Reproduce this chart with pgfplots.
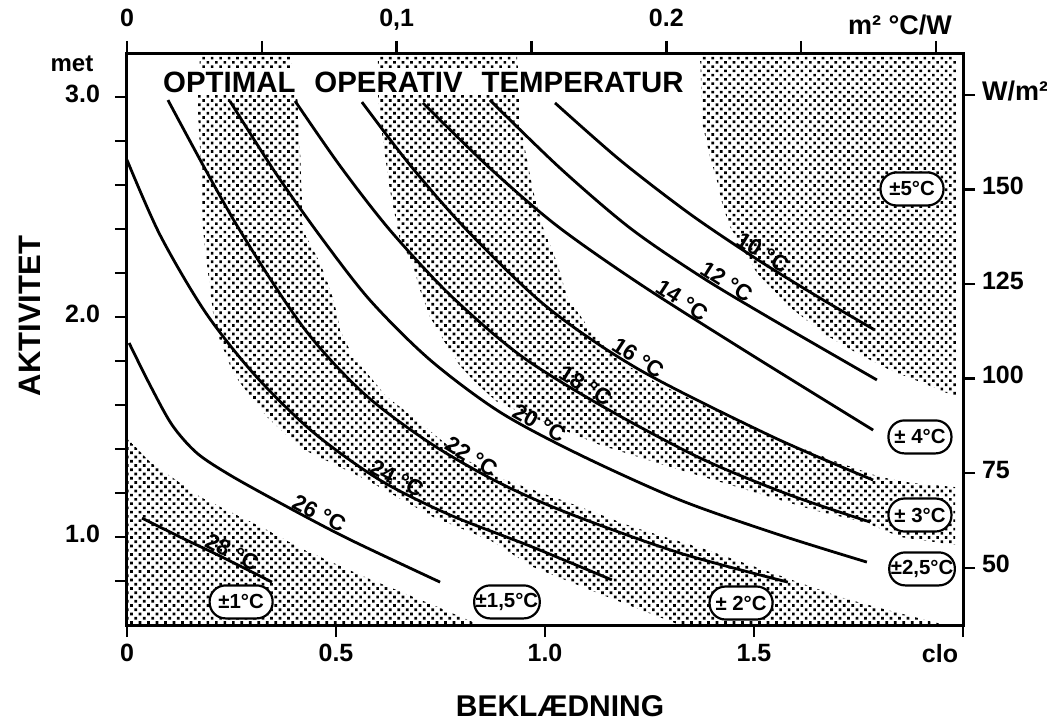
\documentclass[border=0pt]{standalone}
\usepackage{fontspec}
\setmainfont{Liberation Sans}
\usepackage{pgfplots}
\pgfplotsset{compat=1.18}
\usetikzlibrary{patterns.meta}

\tikzset{
  dotfill/.style={draw=none, pattern={Dots[distance=3pt, radius=0.95pt, angle=45]}, pattern color=black},
  curve/.style={black, line width=1.4pt, smooth, mark=none},
  tlab/.style={anchor=south, inner sep=0.3pt, font=\fontsize{11.2}{11.2}\selectfont\bfseries},
  bubble/.style={draw, line width=1.1pt, fill=white, rounded corners=8pt, minimum width=31.5pt, minimum height=16.5pt, inner sep=0.8pt, font=\fontsize{10.2}{10.2}\selectfont\bfseries},
}

\begin{document}
\begin{tikzpicture}
\path[use as bounding box] (-63.5pt,-47.5pt) rectangle (460pt,312.5pt);
\begin{axis}[
  at={(0pt,0pt)}, anchor=south west,
  width=418pt, height=286pt, scale only axis,
  xmin=0, xmax=2, ymin=0.6, ymax=3.2,
  axis line style={line width=1.5pt},
  tick style={line width=1.2pt, black},
  major tick length=6pt, minor tick length=6pt,
  tick align=outside,
  tick pos=left,
  xtick={0,0.5,1,1.5,2}, xticklabels={0,0.5,1.0,1.5,{}},
  ytick={1,2,3}, yticklabels={1.0,2.0,3.0},
  minor ytick={0.8,1.2,1.4,1.6,1.8,2.2,2.4,2.6,2.8},
  ticklabel style={font=\fontsize{12.5}{12.5}\selectfont\bfseries},
  yticklabel style={xshift=-4pt},
  typeset ticklabels with strut,
  /pgf/number format/assume math mode=true,
]
% shaded regions
\addplot[dotfill] coordinates {(-0.05,1.45) (0,1.45) (0.055,1.341) (0.175,1.182) (0.335,1.032) (0.414,0.95) (0.574,0.814) (0.732,0.691) (0.844,0.6) (0.86,0.55) (-0.05,0.55)} -- cycle;
\addplot[dotfill] coordinates {(0.175,3.182) (0.390,3.182) (0.407,3.018) (0.414,2.759) (0.421,2.395) (0.462,2.245) (0.493,2.091) (0.510,1.941) (0.541,1.818) (0.574,1.745) (0.622,1.636) (0.694,1.532) (0.742,1.455) (0.813,1.350) (0.892,1.268) (1.053,1.159) (1.211,1.045) (1.388,0.941) (1.545,0.836) (1.706,0.727) (1.801,0.677) (1.957,0.600) (1.97,0.55) (1.31,0.55) (1.323,0.600) (1.211,0.682) (1.108,0.759) (0.971,0.864) (0.868,0.986) (0.732,1.091) (0.574,1.259) (0.414,1.405) (0.335,1.545) (0.278,1.682) (0.254,1.745) (0.222,1.895) (0.206,2.018) (0.191,2.245) (0.182,2.395) (0.175,2.759) (0.167,3.018)} -- cycle;
\addplot[dotfill] coordinates {(0.600,3.182) (0.933,3.182) (0.940,3.018) (0.940,2.882) (0.971,2.577) (0.995,2.409) (1.029,2.245) (1.053,2.091) (1.108,1.941) (1.187,1.791) (1.268,1.700) (1.388,1.591) (1.545,1.455) (1.706,1.336) (1.801,1.273) (1.880,1.245) (1.981,1.227) (1.981,0.964) (1.849,1.000) (1.770,1.064) (1.641,1.123) (1.483,1.214) (1.323,1.305) (1.132,1.418) (0.95,1.56) (0.885,1.615) (0.835,1.70) (0.795,1.782) (0.760,1.886) (0.725,2.000) (0.701,2.123) (0.682,2.250) (0.653,2.350) (0.629,2.577) (0.612,2.805) (0.600,3.018)} -- cycle;
\addplot[dotfill] coordinates {(1.371,3.182) (1.985,3.182) (1.985,1.636) (1.904,1.700) (1.825,1.759) (1.746,1.836) (1.665,1.927) (1.586,2.045) (1.507,2.200) (1.443,2.409) (1.426,2.500) (1.411,2.623) (1.395,2.727) (1.376,2.882)} -- cycle;
% comfort lines
\addplot[curve] coordinates {(1.024,2.973) (1.179,2.714) (1.347,2.468) (1.510,2.259) (1.658,2.086) (1.789,1.941)};
\addplot[curve] coordinates {(0.868,2.986) (1.036,2.677) (1.203,2.405) (1.371,2.186) (1.538,1.995) (1.794,1.714)};
\addplot[curve] coordinates {(0.708,2.973) (0.868,2.677) (1.029,2.414) (1.227,2.150) (1.483,1.841) (1.785,1.486)};
\addplot[curve] coordinates {(0.562,2.977) (0.677,2.691) (0.813,2.395) (1.005,2.045) (1.227,1.759) (1.545,1.455) (1.785,1.259)};
\addplot[curve] coordinates {(0.402,2.982) (0.510,2.686) (0.629,2.395) (0.773,2.100) (0.940,1.827) (1.132,1.600) (1.371,1.359) (1.586,1.191) (1.778,1.068)};
\addplot[curve] coordinates {(0.246,2.982) (0.354,2.659) (0.462,2.368) (0.581,2.077) (0.725,1.805) (0.892,1.568) (1.084,1.373) (1.323,1.168) (1.562,1.009) (1.770,0.886)};
\addplot[curve] coordinates {(0.098,2.986) (0.258,2.432) (0.421,1.955) (0.565,1.655) (0.725,1.427) (0.892,1.245) (1.060,1.105) (1.323,0.927) (1.581,0.795)};
\addplot[curve] coordinates {(0.0,2.714) (0.079,2.373) (0.187,2.023) (0.306,1.736) (0.445,1.477) (0.605,1.259) (0.773,1.100) (0.964,0.959) (1.160,0.805)};
\addplot[curve] coordinates {(0.005,1.882) (0.055,1.691) (0.108,1.509) (0.167,1.382) (0.246,1.282) (0.366,1.155) (0.526,0.995) (0.749,0.795)};
\addplot[curve] coordinates {(0.036,1.086) (0.127,1.000) (0.222,0.914) (0.347,0.795)};
% line labels
\node[tlab, rotate=-27] at (axis cs:0.242,0.895) {28 °C};
\node[tlab, rotate=-27] at (axis cs:0.450,1.071) {26 °C};
\node[tlab, rotate=-27] at (axis cs:0.636,1.230) {24 °C};
\node[tlab, rotate=-31] at (axis cs:0.813,1.331) {22 °C};
\node[tlab, rotate=-29] at (axis cs:0.976,1.483) {20 °C};
\node[tlab, rotate=-31] at (axis cs:1.086,1.654) {18 °C};
\node[tlab, rotate=-33] at (axis cs:1.211,1.780) {16 °C};
\node[tlab, rotate=-33] at (axis cs:1.316,2.043) {14 °C};
\node[tlab, rotate=-32] at (axis cs:1.423,2.127) {12 °C};
\node[tlab, rotate=-31] at (axis cs:1.510,2.259) {10 °C};
% tolerance bubbles
\node[bubble] at (axis cs:0.273,0.705) {±1°C};
\node[bubble] at (axis cs:0.909,0.705) {±1,5°C};
\node[bubble] at (axis cs:1.469,0.700) {± 2°C};
\node[bubble] at (axis cs:1.902,0.855) {±2,5°C};
\node[bubble] at (axis cs:1.897,1.100) {± 3°C};
\node[bubble] at (axis cs:1.897,1.455) {± 4°C};
\node[bubble] at (axis cs:1.878,2.582) {±5°C};
% title
\node[fill=white, inner sep=1.5pt, font=\fontsize{14.7}{14.7}\selectfont\bfseries] at (axis cs:0.709,3.068) {OPTIMAL\hspace{9.5pt}OPERATIV\hspace{9.5pt}TEMPERATUR};
\end{axis}
\begin{axis}[
  at={(0pt,0pt)}, anchor=south west,
  width=418pt, height=286pt, scale only axis,
  xmin=0, xmax=0.31, ymin=34.89, ymax=186.08,
  axis line style={line width=1.5pt},
  tick style={line width=1.2pt, black},
  major tick length=6pt,
  tick align=outside,
  xtick pos=right, ytick pos=right, xticklabel pos=right, yticklabel pos=right,
  xtick={0,0.05,0.1,0.15,0.2,0.25,0.3}, xticklabels={0,{},{0,1},{},0.2,{},{}},
  ytick={50,75,100,125,150,175}, yticklabels={50,75,100,125,150,{\fontsize{13.5}{13.5}\selectfont W/m²}},
  ticklabel style={font=\fontsize{12.5}{12.5}\selectfont\bfseries},
  typeset ticklabels with strut,
  /pgf/number format/assume math mode=true,
]
\end{axis}
\node[font=\fontsize{15.5}{15.5}\selectfont\bfseries, rotate=90] at (-48.5pt,154.5pt) {AKTIVITET};
\node[font=\fontsize{15}{15}\selectfont\bfseries] at (216.5pt,-40.5pt) {BEKLÆDNING};
\node[font=\fontsize{12}{12}\selectfont\bfseries] at (-27.5pt,280.5pt) {met};
\node[font=\fontsize{12.5}{12.5}\selectfont\bfseries] at (406.5pt,-14.5pt) {clo};
\node[font=\fontsize{13.5}{13.5}\selectfont\bfseries] at (386.5pt,300pt) {m² °C/W};
\end{tikzpicture}
\end{document}
